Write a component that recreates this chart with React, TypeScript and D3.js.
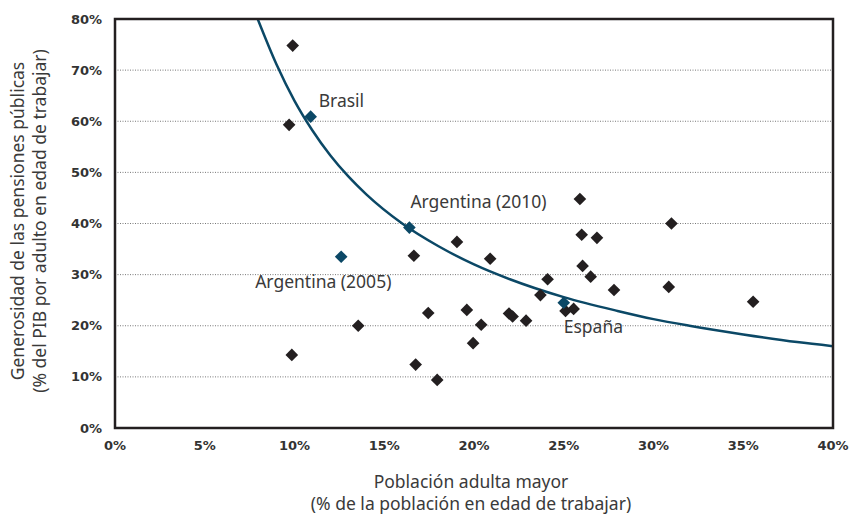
import * as d3 from "d3";
import { useEffect, useRef } from "react";

// Países (población adulta mayor %, generosidad %)
const popX = [9.9, 9.7, 9.85, 13.55, 16.65, 17.45, 16.75, 17.95, 19.05, 20.9, 19.6, 20.4, 19.95,
  21.95, 22.15, 22.9, 23.7, 24.1, 25.1, 25.55, 25.9, 26.0, 26.85, 26.05, 26.5, 27.8, 31.0, 30.85, 35.55];
const genY = [74.8, 59.3, 14.3, 20.0, 33.7, 22.5, 12.4, 9.4, 36.4, 33.1, 23.1, 20.2, 16.6,
  22.4, 21.8, 21.0, 26.0, 29.1, 22.9, 23.3, 44.8, 37.8, 37.2, 31.7, 29.6, 27.0, 40.0, 27.6, 24.7];

// Países destacados
const hlNames = ["Brasil", "Argentina (2005)", "Argentina (2010)", "España"];
const hlX = [10.9, 12.6, 16.4, 25.0];
const hlY = [60.9, 33.5, 39.2, 24.5];

// Curva de tendencia
const curveX = [7.95, 9, 10, 11, 12, 13, 14, 16, 18, 20, 22, 25, 28, 30, 32, 35, 38, 40];
const curveY = [80, 71.1, 64, 58.2, 53.3, 49.2, 45.7, 40, 35.6, 32, 29.1, 25.6, 22.9, 21.3, 20, 18.3, 16.8, 16];

const xTicks = [0, 5, 10, 15, 20, 25, 30, 35, 40];
const yTicks = [0, 10, 20, 30, 40, 50, 60, 70, 80];

const width = 852;
const height = 515;
const margin = { top: 19, right: 19, bottom: 87, left: 115 };
const font = "'Noto Sans', 'Open Sans', sans-serif";
const tickFont = "'DejaVu Sans', sans-serif";
const ink = "#231f20";
const navy = "#0b4866";

export default function App() {
  const ref = useRef<SVGSVGElement>(null);

  useEffect(() => {
    if (!ref.current) return;
    const svg = d3.select(ref.current);
    svg.selectAll("*").remove();

    const x = d3.scaleLinear().domain([0, 40]).range([margin.left, width - margin.right]);
    const y = d3.scaleLinear().domain([0, 80]).range([height - margin.bottom, margin.top]);

    // grid
    svg
      .append("g")
      .selectAll("line")
      .data(yTicks.filter((t) => t > 0 && t < 80))
      .join("line")
      .attr("x1", x(0))
      .attr("x2", x(40))
      .attr("y1", (d) => y(d))
      .attr("y2", (d) => y(d))
      .attr("stroke", "#555")
      .attr("stroke-width", 0.8)
      .attr("stroke-dasharray", "1,1.5");

    // tick labels
    svg
      .append("g")
      .selectAll("text")
      .data(yTicks)
      .join("text")
      .attr("x", x(0) - 13)
      .attr("y", (d) => y(d))
      .attr("dy", "0.35em")
      .attr("text-anchor", "end")
      .attr("font-family", tickFont)
      .attr("font-weight", "bold")
      .attr("font-size", 13)
      .attr("fill", "#333")
      .text((d) => `${d}%`);

    svg
      .append("g")
      .selectAll("text")
      .data(xTicks)
      .join("text")
      .attr("x", (d) => x(d))
      .attr("y", y(0) + 22)
      .attr("text-anchor", "middle")
      .attr("font-family", tickFont)
      .attr("font-weight", "bold")
      .attr("font-size", 13)
      .attr("fill", "#333")
      .text((d) => `${d}%`);

    svg
      .append("clipPath")
      .attr("id", "plot-clip")
      .append("rect")
      .attr("x", x(0))
      .attr("y", y(80))
      .attr("width", x(40) - x(0))
      .attr("height", y(0) - y(80));

    // trend curve
    const line = d3
      .line<number>()
      .x((_, i) => x(curveX[i]))
      .y((d) => y(d))
      .curve(d3.curveMonotoneX);
    svg
      .append("path")
      .attr("clip-path", "url(#plot-clip)")
      .attr("d", line(curveY))
      .attr("fill", "none")
      .attr("stroke", navy)
      .attr("stroke-width", 2.5);

    const diamond = d3.symbol().type(d3.symbolSquare).size(80);

    svg
      .append("g")
      .selectAll("path")
      .data(popX)
      .join("path")
      .attr("d", diamond)
      .attr("transform", (d, i) => `translate(${x(d)},${y(genY[i])}) rotate(45)`)
      .attr("fill", ink);

    svg
      .append("g")
      .selectAll("path")
      .data(hlX)
      .join("path")
      .attr("d", diamond)
      .attr("transform", (d, i) => `translate(${x(d)},${y(hlY[i])}) rotate(45)`)
      .attr("fill", navy);

    // labels for highlighted points
    const labelPos = [
      { dx: 8, dy: -10 },
      { dx: -86, dy: 31 },
      { dx: 1, dy: -20 },
      { dx: 0, dy: 30 },
    ];
    svg
      .append("g")
      .selectAll("text")
      .data(hlNames)
      .join("text")
      .attr("x", (_, i) => x(hlX[i]) + labelPos[i].dx)
      .attr("y", (_, i) => y(hlY[i]) + labelPos[i].dy)
      .attr("font-family", font)
      .attr("font-size", 17.5)
      .attr("fill", "#3a3a3a")
      .text((d) => d);

    // frame
    svg
      .append("rect")
      .attr("x", x(0))
      .attr("y", y(80))
      .attr("width", x(40) - x(0))
      .attr("height", y(0) - y(80))
      .attr("fill", "none")
      .attr("stroke", ink)
      .attr("stroke-width", 2.5);

    // axis titles
    const xt = svg
      .append("text")
      .attr("text-anchor", "middle")
      .attr("font-family", font)
      .attr("font-size", 17.5)
      .attr("fill", "#3a3a3a");
    xt.append("tspan").attr("x", 471).attr("y", 488).text("Población adulta mayor");
    xt.append("tspan").attr("x", 471).attr("y", 510).text("(% de la población en edad de trabajar)");

    const yt = svg
      .append("text")
      .attr("transform", `translate(0,221) rotate(-90)`)
      .attr("text-anchor", "middle")
      .attr("font-family", font)
      .attr("font-size", 17.5)
      .attr("fill", "#3a3a3a");
    yt.append("tspan").attr("x", 0).attr("y", 24).text("Generosidad de las pensiones públicas");
    yt.append("tspan").attr("x", 0).attr("y", 46).text("(% del PIB por adulto en edad de trabajar)");

    return () => {
      svg.selectAll("*").remove();
    };
  }, []);

  return (
    <svg
      ref={ref}
      width={width}
      height={height}
      style={{ display: "block", position: "absolute", left: 0, top: 0, background: "#fff" }}
    />
  );
}
